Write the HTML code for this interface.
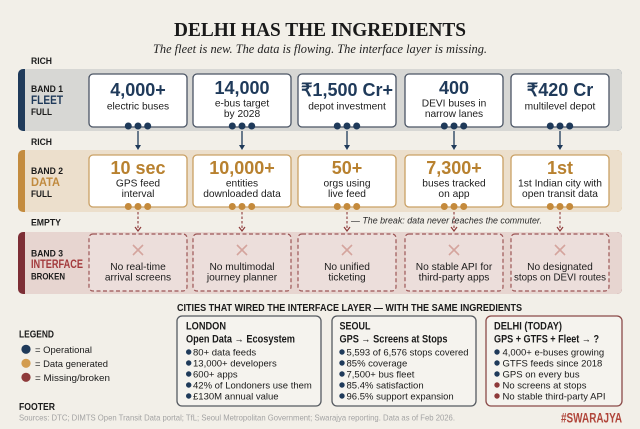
<!DOCTYPE html>
<html><head><meta charset="utf-8"><style>
html,body{margin:0;padding:0;background:#f2efe8;}
svg{display:block;}
text{font-family:"Liberation Sans",sans-serif;}
.serif{font-family:"Liberation Serif",serif;}
.b{font-weight:bold;}
.n1{fill:#1f3a5a;font-weight:bold;font-size:18px;text-anchor:middle;}
.n2{fill:#b8812f;font-weight:bold;font-size:18px;text-anchor:middle;}
.s{fill:#1c1c1c;font-size:10.2px;text-anchor:middle;}
.lb{fill:#1c1c1c;font-size:9px;font-weight:bold;}
.bl{fill:#1a1a1a;font-size:9.5px;}
</style></head><body>
<svg width="640" height="429" viewBox="0 0 640 429" xmlns="http://www.w3.org/2000/svg">
<rect x="0" y="0" width="640" height="429" fill="#f2efe8"/>

<!-- Title -->
<text class="serif b" x="174" y="36" font-size="20.5" fill="#1a1a1a" textLength="292" lengthAdjust="spacingAndGlyphs">DELHI HAS THE INGREDIENTS</text>
<text class="serif" x="153" y="53" font-size="12.5" font-style="italic" fill="#222" textLength="334" lengthAdjust="spacingAndGlyphs">The fleet is new. The data is flowing. The interface layer is missing.</text>

<text class="lb" x="31" y="64" textLength="21" lengthAdjust="spacingAndGlyphs">RICH</text>
<text class="lb" x="31" y="145" textLength="21" lengthAdjust="spacingAndGlyphs">RICH</text>
<text class="lb" x="31" y="225.5" textLength="30" lengthAdjust="spacingAndGlyphs">EMPTY</text>

<!-- Band 1 -->
<rect x="18" y="69" width="604" height="62" rx="5" fill="#1f3a5a"/>
<path d="M25,69 H617 a5,5 0 0 1 5,5 V126 a5,5 0 0 1 -5,5 H25 Z" fill="#d7d7d4"/>
<text class="b" x="31" y="92" font-size="9.5" fill="#1a1a1a" textLength="32" lengthAdjust="spacingAndGlyphs">BAND 1</text>
<text class="b" x="31" y="104" font-size="12" fill="#1f3a5a" textLength="32" lengthAdjust="spacingAndGlyphs">FLEET</text>
<text x="31" y="115" font-size="9" fill="#1a1a1a" font-weight="bold" textLength="21" lengthAdjust="spacingAndGlyphs">FULL</text>

<!-- Band 2 -->
<rect x="18" y="150" width="604" height="62" rx="5" fill="#c48c3f"/>
<path d="M25,150 H617 a5,5 0 0 1 5,5 V207 a5,5 0 0 1 -5,5 H25 Z" fill="#ecdfcc"/>
<text class="b" x="31" y="174" font-size="9.5" fill="#1a1a1a" textLength="32" lengthAdjust="spacingAndGlyphs">BAND 2</text>
<text class="b" x="31" y="186" font-size="12" fill="#c08a3e" textLength="29" lengthAdjust="spacingAndGlyphs">DATA</text>
<text x="31" y="197" font-size="9" fill="#1a1a1a" font-weight="bold" textLength="21" lengthAdjust="spacingAndGlyphs">FULL</text>

<!-- Band 3 -->
<rect x="18" y="232" width="604" height="62" rx="5" fill="#7d2e35"/>
<path d="M25,232 H617 a5,5 0 0 1 5,5 V289 a5,5 0 0 1 -5,5 H25 Z" fill="#e7d5d0"/>
<text class="b" x="31" y="256.5" font-size="9.5" fill="#1a1a1a" textLength="32" lengthAdjust="spacingAndGlyphs">BAND 3</text>
<text class="b" x="31" y="268" font-size="12" fill="#a33a3c" textLength="52" lengthAdjust="spacingAndGlyphs">INTERFACE</text>
<text x="31" y="279.3" font-size="9" fill="#1a1a1a" font-weight="bold" textLength="34" lengthAdjust="spacingAndGlyphs">BROKEN</text>

<!-- Band 1 cards -->
<g fill="#ffffff" stroke="#4b5565" stroke-width="1.3">
<rect x="89" y="74" width="98" height="53" rx="4"/>
<rect x="193" y="74" width="98" height="53" rx="4"/>
<rect x="298" y="74" width="98" height="53" rx="4"/>
<rect x="405" y="74" width="98" height="53" rx="4"/>
<rect x="511" y="74" width="98" height="53" rx="4"/>
</g>
<text class="n1" x="138" y="96">4,000+</text>
<text class="s" x="138" y="109.5">electric buses</text>
<text class="n1" x="242" y="94">14,000</text>
<text class="s" x="242" y="106.5">e-bus target</text>
<text class="s" x="242" y="117">by 2028</text>
<text class="n1" x="347" y="96">₹1,500 Cr+</text>
<text class="s" x="347" y="109.5">depot investment</text>
<text class="n1" x="454" y="94">400</text>
<text class="s" x="454" y="106.5">DEVI buses in</text>
<text class="s" x="454" y="117">narrow lanes</text>
<text class="n1" x="560" y="96">₹420 Cr</text>
<text class="s" x="560" y="109.5">multilevel depot</text>

<!-- Band 1 dots + arrows -->
<g fill="#1f3a5a">
<circle cx="128.3" cy="126" r="3.5"/><circle cx="138" cy="126" r="3.5"/><circle cx="147.7" cy="126" r="3.5"/>
<circle cx="232.3" cy="126" r="3.5"/><circle cx="242" cy="126" r="3.5"/><circle cx="251.7" cy="126" r="3.5"/>
<circle cx="337.3" cy="126" r="3.5"/><circle cx="347" cy="126" r="3.5"/><circle cx="356.7" cy="126" r="3.5"/>
<circle cx="444.3" cy="126" r="3.5"/><circle cx="454" cy="126" r="3.5"/><circle cx="463.7" cy="126" r="3.5"/>
<circle cx="550.3" cy="126" r="3.5"/><circle cx="560" cy="126" r="3.5"/><circle cx="569.7" cy="126" r="3.5"/>
</g>
<g stroke="#1f3a5a" stroke-width="1.3">
<line x1="138" y1="131" x2="138" y2="146"/>
<line x1="242" y1="131" x2="242" y2="146"/>
<line x1="347" y1="131" x2="347" y2="146"/>
<line x1="454" y1="131" x2="454" y2="146"/>
<line x1="560" y1="131" x2="560" y2="146"/>
</g>
<g fill="#1f3a5a">
<path d="M135,145 L141,145 L138,150 Z"/>
<path d="M239,145 L245,145 L242,150 Z"/>
<path d="M344,145 L350,145 L347,150 Z"/>
<path d="M451,145 L457,145 L454,150 Z"/>
<path d="M557,145 L563,145 L560,150 Z"/>
</g>

<!-- Band 2 cards -->
<g fill="#ffffff" stroke="#c9a064" stroke-width="1.3">
<rect x="89" y="155" width="98" height="52" rx="4"/>
<rect x="193" y="155" width="98" height="52" rx="4"/>
<rect x="298" y="155" width="98" height="52" rx="4"/>
<rect x="405" y="155" width="98" height="52" rx="4"/>
<rect x="511" y="155" width="98" height="52" rx="4"/>
</g>
<text class="n2" x="138" y="174">10 sec</text>
<text class="s" x="138" y="186.3">GPS feed</text>
<text class="s" x="138" y="197">interval</text>
<text class="n2" x="242" y="174">10,000+</text>
<text class="s" x="242" y="186.3">entities</text>
<text class="s" x="242" y="197">downloaded data</text>
<text class="n2" x="347" y="174">50+</text>
<text class="s" x="347" y="186.3">orgs using</text>
<text class="s" x="347" y="197">live feed</text>
<text class="n2" x="454" y="174">7,300+</text>
<text class="s" x="454" y="186.3">buses tracked</text>
<text class="s" x="454" y="197">on app</text>
<text class="n2" x="560" y="174">1st</text>
<text class="s" x="560" y="186.3" textLength="84" lengthAdjust="spacingAndGlyphs">1st Indian city with</text>
<text class="s" x="560" y="197">open transit data</text>

<g fill="#c48a3c">
<circle cx="128.3" cy="206.5" r="3.5"/><circle cx="138" cy="206.5" r="3.5"/><circle cx="147.7" cy="206.5" r="3.5"/>
<circle cx="232.3" cy="206.5" r="3.5"/><circle cx="242" cy="206.5" r="3.5"/><circle cx="251.7" cy="206.5" r="3.5"/>
<circle cx="337.3" cy="206.5" r="3.5"/><circle cx="347" cy="206.5" r="3.5"/><circle cx="356.7" cy="206.5" r="3.5"/>
<circle cx="444.3" cy="206.5" r="3.5"/><circle cx="454" cy="206.5" r="3.5"/><circle cx="463.7" cy="206.5" r="3.5"/>
<circle cx="550.3" cy="206.5" r="3.5"/><circle cx="560" cy="206.5" r="3.5"/><circle cx="569.7" cy="206.5" r="3.5"/>
</g>
<g stroke="#8e3a3a" stroke-width="1.1" stroke-dasharray="2.5 2" fill="none">
<line x1="138" y1="212" x2="138" y2="229"/>
<line x1="242" y1="212" x2="242" y2="229"/>
<line x1="347" y1="212" x2="347" y2="229"/>
<line x1="454" y1="212" x2="454" y2="229"/>
<line x1="560" y1="212" x2="560" y2="229"/>
</g>
<g stroke="#8e3a3a" stroke-width="1.2" fill="none">
<polyline points="135,227 138,231 141,227"/>
<polyline points="239,227 242,231 245,227"/>
<polyline points="344,227 347,231 350,227"/>
<polyline points="451,227 454,231 457,227"/>
<polyline points="557,227 560,231 563,227"/>
</g>
<text x="351" y="223.3" font-size="9" font-style="italic" fill="#2a2a2a" textLength="191" lengthAdjust="spacingAndGlyphs">— The break: data never reaches the commuter.</text>

<!-- Band 3 cards -->
<g fill="#ecdedb" stroke="#9c5656" stroke-width="1.2" stroke-dasharray="4 2.5">
<rect x="89" y="234" width="98" height="57" rx="4"/>
<rect x="193" y="234" width="98" height="57" rx="4"/>
<rect x="298" y="234" width="98" height="57" rx="4"/>
<rect x="405" y="234" width="98" height="57" rx="4"/>
<rect x="511" y="234" width="98" height="57" rx="4"/>
</g>
<g stroke="#d4a49d" stroke-width="1.6">
<path d="M133,245 L143,255 M143,245 L133,255"/>
<path d="M237,245 L247,255 M247,245 L237,255"/>
<path d="M342,245 L352,255 M352,245 L342,255"/>
<path d="M449,245 L459,255 M459,245 L449,255"/>
<path d="M555,245 L565,255 M565,245 L555,255"/>
</g>
<text class="s" x="138" y="270">No real-time</text>
<text class="s" x="138" y="280.5">arrival screens</text>
<text class="s" x="242" y="270">No multimodal</text>
<text class="s" x="242" y="280.5">journey planner</text>
<text class="s" x="347" y="270">No unified</text>
<text class="s" x="347" y="280.5">ticketing</text>
<text class="s" x="454" y="270">No stable API for</text>
<text class="s" x="454" y="280.5">third-party apps</text>
<text class="s" x="560" y="270">No designated</text>
<text class="s" x="560" y="280.5" textLength="92" lengthAdjust="spacingAndGlyphs">stops on DEVI routes</text>

<!-- Cities header -->
<text class="b" x="177" y="311" font-size="10.5" fill="#1a1a1a" textLength="345" lengthAdjust="spacingAndGlyphs">CITIES THAT WIRED THE INTERFACE LAYER — WITH THE SAME INGREDIENTS</text>

<!-- Legend -->
<text class="b" x="19" y="337.7" font-size="10.5" fill="#1a1a1a" textLength="35" lengthAdjust="spacingAndGlyphs">LEGEND</text>
<circle cx="26" cy="349.3" r="4.6" fill="#1f3a5a"/>
<circle cx="26" cy="363.3" r="4.6" fill="#d39c4f"/>
<circle cx="26" cy="377.3" r="4.6" fill="#8e3a3a"/>
<text class="bl" x="35" y="353" textLength="57" lengthAdjust="spacingAndGlyphs">= Operational</text>
<text class="bl" x="35" y="367" textLength="73" lengthAdjust="spacingAndGlyphs">= Data generated</text>
<text class="bl" x="35" y="381" textLength="75" lengthAdjust="spacingAndGlyphs">= Missing/broken</text>

<!-- London -->
<rect x="177" y="316" width="144" height="90" rx="5" fill="#f5f3ee" stroke="#555a60" stroke-width="1.3"/>
<text class="b" x="186" y="329.5" font-size="11" fill="#1a1a1a" textLength="40" lengthAdjust="spacingAndGlyphs">LONDON</text>
<text class="b" x="186" y="342.5" font-size="11" fill="#1a1a1a" textLength="109" lengthAdjust="spacingAndGlyphs">Open Data → Ecosystem</text>
<g fill="#1f3a5a">
<circle cx="188.7" cy="352" r="2.7"/><circle cx="188.7" cy="363" r="2.7"/><circle cx="188.7" cy="374" r="2.7"/><circle cx="188.7" cy="385" r="2.7"/><circle cx="188.7" cy="396" r="2.7"/>
</g>
<text class="bl" x="193" y="355.3">80+ data feeds</text>
<text class="bl" x="193" y="366.3">13,000+ developers</text>
<text class="bl" x="193" y="377.3">600+ apps</text>
<text class="bl" x="193" y="388.3">42% of Londoners use them</text>
<text class="bl" x="193" y="399.3">£130M annual value</text>

<!-- Seoul -->
<rect x="332" y="316" width="144" height="90" rx="5" fill="#f5f3ee" stroke="#555a60" stroke-width="1.3"/>
<text class="b" x="339.5" y="329.5" font-size="11" fill="#1a1a1a" textLength="31" lengthAdjust="spacingAndGlyphs">SEOUL</text>
<text class="b" x="339.5" y="342.5" font-size="11" fill="#1a1a1a" textLength="108" lengthAdjust="spacingAndGlyphs">GPS → Screens at Stops</text>
<g fill="#1f3a5a">
<circle cx="342" cy="352" r="2.7"/><circle cx="342" cy="363" r="2.7"/><circle cx="342" cy="374" r="2.7"/><circle cx="342" cy="385" r="2.7"/><circle cx="342" cy="396" r="2.7"/>
</g>
<text class="bl" x="346.5" y="355.3" textLength="122" lengthAdjust="spacingAndGlyphs">5,593 of 6,576 stops covered</text>
<text class="bl" x="346.5" y="366.3">85% coverage</text>
<text class="bl" x="346.5" y="377.3">7,500+ bus fleet</text>
<text class="bl" x="346.5" y="388.3">85.4% satisfaction</text>
<text class="bl" x="346.5" y="399.3">96.5% support expansion</text>

<!-- Delhi -->
<rect x="486" y="316" width="136" height="90" rx="5" fill="#f5f3ee" stroke="#8b4a48" stroke-width="1.3"/>
<text class="b" x="494" y="329.5" font-size="11" fill="#1a1a1a" textLength="68" lengthAdjust="spacingAndGlyphs">DELHI (TODAY)</text>
<text class="b" x="494" y="342.5" font-size="11" fill="#1a1a1a" textLength="105" lengthAdjust="spacingAndGlyphs">GPS + GTFS + Fleet → ?</text>
<circle cx="497" cy="352" r="2.7" fill="#1f3a5a"/>
<circle cx="497" cy="363" r="2.7" fill="#1f3a5a"/>
<circle cx="497" cy="374" r="2.7" fill="#1f3a5a"/>
<circle cx="497" cy="385" r="2.7" fill="#8e3a3a"/>
<circle cx="497" cy="396" r="2.7" fill="#8e3a3a"/>
<text class="bl" x="502.5" y="355.3">4,000+ e-buses growing</text>
<text class="bl" x="502.5" y="366.3">GTFS feeds since 2018</text>
<text class="bl" x="502.5" y="377.3">GPS on every bus</text>
<text class="bl" x="502.5" y="388.3">No screens at stops</text>
<text class="bl" x="502.5" y="399.3">No stable third-party API</text>

<!-- Footer -->
<text class="b" x="19" y="410" font-size="10.5" fill="#1a1a1a" textLength="36" lengthAdjust="spacingAndGlyphs">FOOTER</text>
<text x="19" y="420.5" font-size="8.5" fill="#a3a3a3" textLength="436" lengthAdjust="spacingAndGlyphs">Sources: DTC; DIMTS Open Transit Data portal; TfL; Seoul Metropolitan Government; Swarajya reporting. Data as of Feb 2026.</text>
<text class="b" x="561" y="422.7" font-size="13.5" fill="#b0453a" textLength="61" lengthAdjust="spacingAndGlyphs">#SWARAJYA</text>
</svg>
</body></html>
